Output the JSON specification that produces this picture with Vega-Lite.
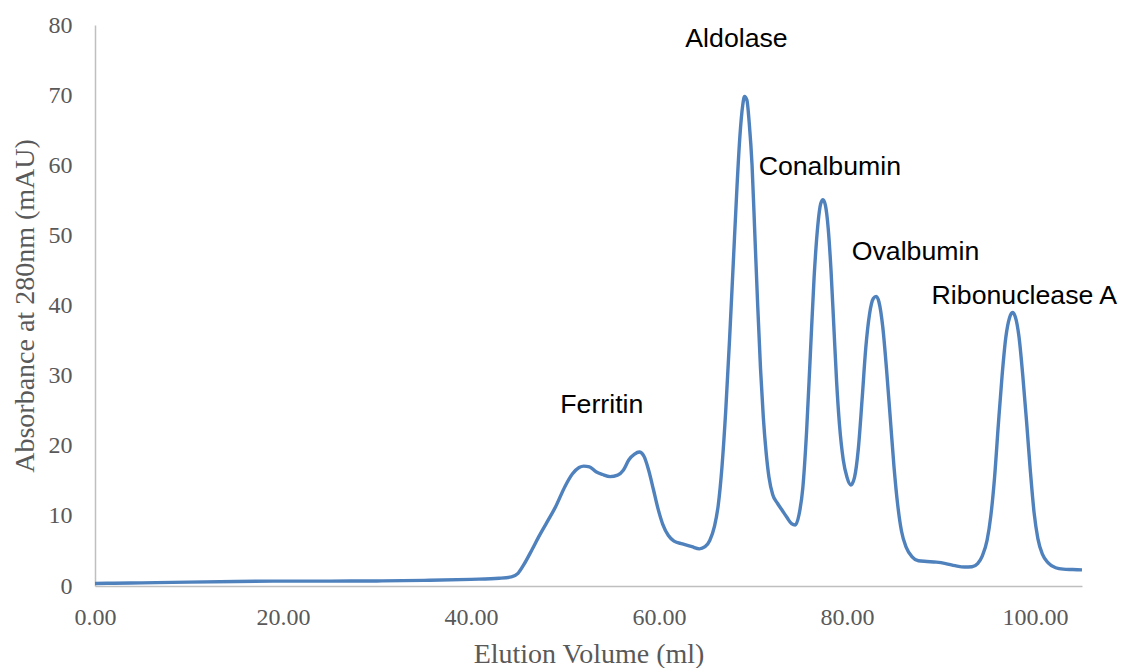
{
  "$schema": "https://vega.github.io/schema/vega-lite/v6.json",
  "width": 987,
  "height": 561,
  "autosize": {"type": "none"},
  "padding": {"left": 95, "top": 25, "right": 39, "bottom": 82},
  "background": "white",
  "config": {
    "view": {"stroke": null},
    "axis": {
      "labelFont": "Liberation Serif",
      "labelFontSize": 24,
      "labelColor": "#595959",
      "titleFont": "Liberation Serif",
      "titleFontSize": 28,
      "titleFontWeight": "normal",
      "titleColor": "#595959",
      "domainColor": "#BFBFBF",
      "domainWidth": 1.5,
      "ticks": false,
      "tickSize": 0,
      "grid": false
    }
  },
  "datasets": {
    "trace": [
      {"v": 0, "a": 0.35}, {"v": 2, "a": 0.4}, {"v": 5, "a": 0.45}, {"v": 10, "a": 0.55},
      {"v": 15, "a": 0.65}, {"v": 20, "a": 0.7}, {"v": 25, "a": 0.7}, {"v": 30, "a": 0.72},
      {"v": 35, "a": 0.8}, {"v": 40, "a": 0.95}, {"v": 43, "a": 1.1}, {"v": 44.3, "a": 1.3},
      {"v": 45, "a": 1.8}, {"v": 45.6, "a": 3.0}, {"v": 46.5, "a": 5.2}, {"v": 47.2, "a": 7.0},
      {"v": 48, "a": 8.9}, {"v": 49, "a": 11.3}, {"v": 50, "a": 14.2}, {"v": 50.8, "a": 16.0},
      {"v": 51.5, "a": 16.9}, {"v": 52, "a": 17.1}, {"v": 52.6, "a": 17.0}, {"v": 53.3, "a": 16.3},
      {"v": 54, "a": 15.9}, {"v": 54.8, "a": 15.6}, {"v": 55.6, "a": 15.8}, {"v": 56.2, "a": 16.5},
      {"v": 56.8, "a": 18.0}, {"v": 57.4, "a": 18.8}, {"v": 57.9, "a": 19.1}, {"v": 58.4, "a": 18.5},
      {"v": 58.9, "a": 16.5}, {"v": 59.4, "a": 13.8}, {"v": 59.9, "a": 11.0}, {"v": 60.4, "a": 8.8},
      {"v": 61, "a": 7.2}, {"v": 61.6, "a": 6.4}, {"v": 62.5, "a": 6.0}, {"v": 63.5, "a": 5.6},
      {"v": 64.3, "a": 5.3}, {"v": 64.9, "a": 5.6}, {"v": 65.4, "a": 6.5}, {"v": 65.9, "a": 8.5},
      {"v": 66.3, "a": 11.5}, {"v": 66.7, "a": 17}, {"v": 67.1, "a": 25}, {"v": 67.5, "a": 35},
      {"v": 67.9, "a": 46}, {"v": 68.3, "a": 57}, {"v": 68.6, "a": 64}, {"v": 68.9, "a": 68.5},
      {"v": 69.1, "a": 69.8}, {"v": 69.35, "a": 69.3}, {"v": 69.6, "a": 66}, {"v": 69.9, "a": 60},
      {"v": 70.2, "a": 50}, {"v": 70.5, "a": 40}, {"v": 70.8, "a": 31}, {"v": 71.1, "a": 24},
      {"v": 71.4, "a": 19}, {"v": 71.7, "a": 15.5}, {"v": 72.1, "a": 13}, {"v": 72.6, "a": 11.8},
      {"v": 73.1, "a": 10.8}, {"v": 73.6, "a": 9.8}, {"v": 74.1, "a": 8.9}, {"v": 74.5, "a": 8.7},
      {"v": 74.9, "a": 10.2}, {"v": 75.3, "a": 14}, {"v": 75.7, "a": 22}, {"v": 76.1, "a": 33},
      {"v": 76.5, "a": 44}, {"v": 76.9, "a": 51.5}, {"v": 77.2, "a": 54.5}, {"v": 77.45, "a": 55.1},
      {"v": 77.7, "a": 54.3}, {"v": 78.0, "a": 51}, {"v": 78.3, "a": 45}, {"v": 78.6, "a": 37},
      {"v": 78.9, "a": 29}, {"v": 79.2, "a": 23}, {"v": 79.6, "a": 18}, {"v": 80.0, "a": 15.5},
      {"v": 80.4, "a": 14.4}, {"v": 80.8, "a": 15.5}, {"v": 81.2, "a": 19.5}, {"v": 81.6, "a": 26.5},
      {"v": 82.0, "a": 34}, {"v": 82.4, "a": 38.8}, {"v": 82.8, "a": 41}, {"v": 83.1, "a": 41.3},
      {"v": 83.4, "a": 40.5}, {"v": 83.8, "a": 37}, {"v": 84.2, "a": 31}, {"v": 84.6, "a": 24},
      {"v": 85.0, "a": 17}, {"v": 85.4, "a": 11.5}, {"v": 85.8, "a": 7.8}, {"v": 86.3, "a": 5.5},
      {"v": 86.9, "a": 4.2}, {"v": 87.6, "a": 3.6}, {"v": 88.5, "a": 3.5}, {"v": 89.5, "a": 3.4},
      {"v": 90.5, "a": 3.2}, {"v": 91.5, "a": 2.9}, {"v": 92.5, "a": 2.7}, {"v": 93.3, "a": 2.75},
      {"v": 93.9, "a": 3.2}, {"v": 94.4, "a": 4.3}, {"v": 94.9, "a": 6.5}, {"v": 95.3, "a": 10},
      {"v": 95.7, "a": 15.5}, {"v": 96.1, "a": 23}, {"v": 96.5, "a": 30}, {"v": 96.9, "a": 35.5},
      {"v": 97.3, "a": 38.3}, {"v": 97.6, "a": 39.0}, {"v": 97.9, "a": 38.4}, {"v": 98.3, "a": 35.5},
      {"v": 98.7, "a": 30}, {"v": 99.1, "a": 23.5}, {"v": 99.5, "a": 16.5}, {"v": 99.9, "a": 10.5},
      {"v": 100.3, "a": 6.8}, {"v": 100.8, "a": 4.5}, {"v": 101.4, "a": 3.3}, {"v": 102.2, "a": 2.6},
      {"v": 103, "a": 2.4}, {"v": 104, "a": 2.35}, {"v": 105, "a": 2.3}
    ],
    "labels": [
      {"v": 49.5, "a": 25.8, "name": "Ferritin"},
      {"v": 62.8, "a": 78.0, "name": "Aldolase"},
      {"v": 70.6, "a": 59.75, "name": "Conalbumin"},
      {"v": 80.5, "a": 47.6, "name": "Ovalbumin"},
      {"v": 89.0, "a": 41.4, "name": "Ribonuclease A"}
    ]
  },
  "layer": [
    {
      "data": {"name": "trace"},
      "mark": {"type": "line", "color": "#4F81BD", "strokeWidth": 3.4, "interpolate": "monotone", "clip": true},
      "encoding": {
        "x": {
          "field": "v", "type": "quantitative",
          "scale": {"domain": [0, 105], "nice": false, "zero": true},
          "axis": {"title": "Elution Volume (ml)", "values": [0, 20, 40, 60, 80, 100], "format": ".2f", "labelPadding": 19, "titlePadding": 11, "labelFlush": false}
        },
        "y": {
          "field": "a", "type": "quantitative",
          "scale": {"domain": [0, 80], "nice": false},
          "axis": {"title": "Absorbance at 280nm (mAU)", "values": [0, 10, 20, 30, 40, 50, 60, 70, 80], "labelPadding": 23, "titlePadding": 9}
        }
      }
    },
    {
      "data": {"name": "labels"},
      "mark": {"type": "text", "align": "left", "baseline": "middle", "font": "Liberation Sans", "fontSize": 26.7, "color": "#000000"},
      "encoding": {
        "x": {"field": "v", "type": "quantitative"},
        "y": {"field": "a", "type": "quantitative"},
        "text": {"field": "name"}
      }
    }
  ]
}
